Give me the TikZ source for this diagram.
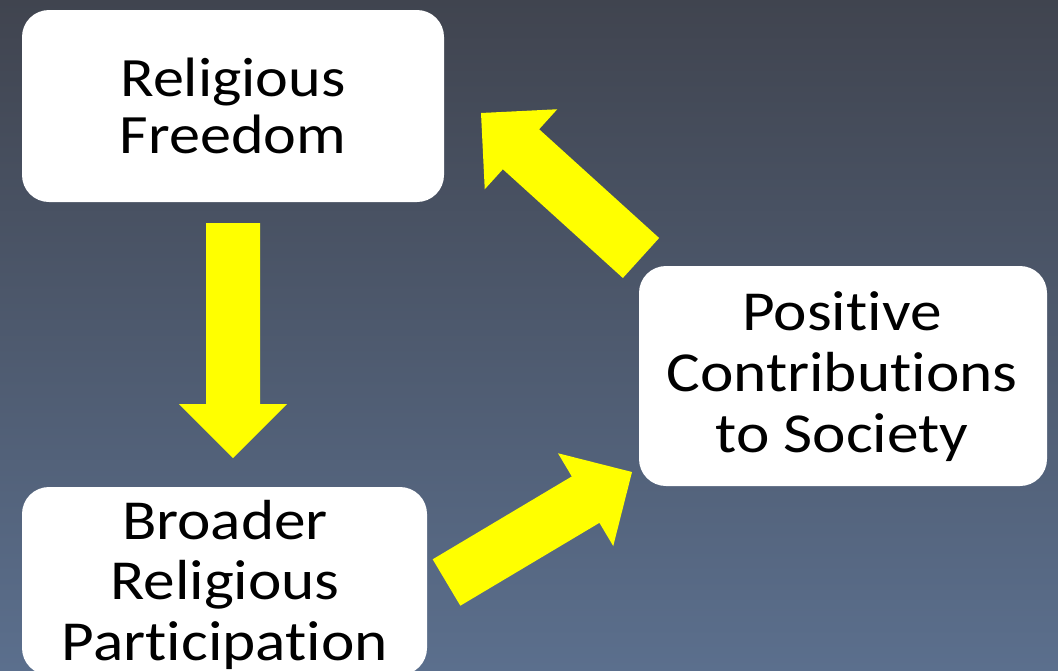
\documentclass[tikz,border=0pt]{standalone}
\usepackage{fontspec}
\setmainfont{Carlito}[Ligatures=NoCommon]
\newfontfamily\boxfont{Carlito}[FakeStretch=1.12, Ligatures=NoCommon]
\usetikzlibrary{calc}
\definecolor{bgtop}{HTML}{40444F}
\definecolor{bgbot}{HTML}{5B6F8D}
\definecolor{arrowyellow}{HTML}{FFFF00}
\newcommand\blockarrow[2]{%
  \coordinate (hb) at ($(#2)!54pt!(#1)$);
  \fill[arrowyellow] ($(#1)!27pt!-90:(#2)$) -- ($(hb)!27pt!90:(#1)$) -- ($(hb)!54pt!90:(#1)$) -- (#2)
    -- ($(hb)!54pt!-90:(#1)$) -- ($(hb)!27pt!-90:(#1)$) -- ($(#1)!27pt!90:(#2)$) -- cycle;}
\begin{document}
\begin{tikzpicture}[x=1pt,y=-1pt,
  box/.style={fill=white, rounded corners=27pt, inner sep=0pt},
  txt/.style={align=center, inner sep=0pt, text=black, anchor=base}]
\useasboundingbox (0,0) rectangle (1058,670);
\clip (0,0) rectangle (1058,670);
\shade[top color=bgtop, bottom color=bgbot] (0,0) rectangle (1058,670);
\node[box, minimum width=422pt, minimum height=192pt] (rf) at (233,106) {};
\node[box, minimum width=405pt, minimum height=188pt] (bp) at (224.5,581) {};
\node[box, minimum width=408pt, minimum height=220pt] (pc) at (843,376) {};
\node[txt, font=\boxfont\fontsize{55.5}{56.7}\selectfont] (rft) at (233,153.4) {Religious\\Freedom};
\node[txt, font=\boxfont\fontsize{56.5}{60.5}\selectfont] (bpt) at (225,660.3) {Broader\\Religious\\Participation};
\node[txt, font=\boxfont\fontsize{56.5}{61}\selectfont] (pct) at (842,452.5) {Positive\\Contributions\\to Society};
\coordinate (a1t) at (233,223);
\coordinate (a1h) at (233,458);
\coordinate (a2t) at (641,258);
\coordinate (a2h) at (481,113);
\coordinate (a3t) at (446.5,582.5);
\coordinate (a3h) at (632,472);
\blockarrow{a1t}{a1h}
\blockarrow{a2t}{a2h}
\blockarrow{a3t}{a3h}
\end{tikzpicture}
\end{document}
